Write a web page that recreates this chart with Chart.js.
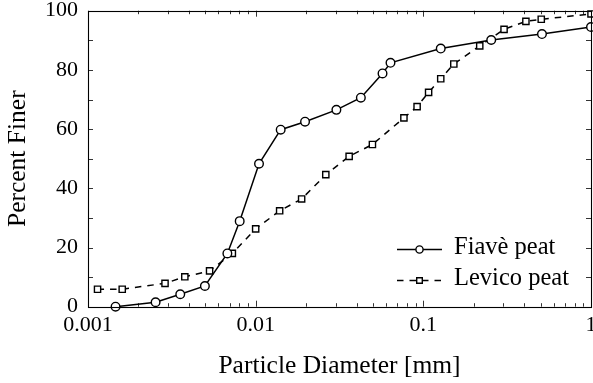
<!DOCTYPE html>
<html>
<head>
<meta charset="utf-8">
<script src="https://cdn.jsdelivr.net/npm/chart.js@4/dist/chart.umd.min.js"></script>
<style>
  html, body { margin: 0; padding: 0; background: #fff; }
  canvas { display: block; }
</style>
</head>
<body>
<canvas id="grain-chart" width="593" height="383"></canvas>
<script>
// grain size distribution data

const fiaveLabel = "Fiavè peat";
const fiaveDiam = [0.00146, 0.00253, 0.00355, 0.00498, 0.00678, 0.00803, 0.01047, 0.0141, 0.0197, 0.0303, 0.0424, 0.0571, 0.0637, 0.127, 0.254, 0.51, 1.0];
const fiavePct = [0, 1.5, 4.2, 7.0, 18.0, 28.9, 48.3, 59.8, 62.5, 66.5, 70.6, 78.8, 82.4, 87.2, 90.1, 92.1, 94.5];

const levicoLabel = "Levico peat";
const levicoDiam = [0.00114, 0.0016, 0.00288, 0.00378, 0.00531, 0.00726, 0.0100, 0.0139, 0.0188, 0.0262, 0.0361, 0.0497, 0.0766, 0.0918, 0.1075, 0.127, 0.152, 0.217, 0.303, 0.409, 0.505, 1.0];
const levicoPct = [5.9, 5.9, 7.9, 10.1, 12.1, 18.0, 26.3, 32.4, 36.4, 44.6, 50.8, 54.8, 63.8, 67.6, 72.4, 77.0, 82.0, 88.1, 93.7, 96.4, 97.1, 98.9];

// axis ticks
const xMajorTicks = [0.001, 0.01, 0.1, 1];
const xMinorSteps = [2, 3, 4, 5, 6, 7, 8, 9];
const yTicks = [0, 10, 20, 30, 40, 50, 60, 70, 80, 90, 100];
const yLabelled = [0, 20, 40, 60, 80, 100];

const xTickValues = [];
xMajorTicks.forEach((d, i) => {
  xTickValues.push(d);
  if (i < xMajorTicks.length - 1) xMinorSteps.forEach(m => xTickValues.push(+(d * m).toPrecision(3)));
});

const toPoints = (xs, ys) => xs.map((x, i) => ({ x: x, y: ys[i] }));

Chart.defaults.font.family = "'Liberation Serif', 'DejaVu Serif', serif";
Chart.defaults.color = '#000';

// ticks drawn inward on all four sides + frame, like pgfplots
const frameTicks = {
  id: 'frameTicks',
  afterDatasetsDraw(chart) {
    const { ctx, chartArea: a, scales } = chart;
    ctx.save();
    ctx.strokeStyle = '#000';
    ctx.lineWidth = 0.8;
    ctx.beginPath();
    scales.x.ticks.forEach(t => {
      const px = Math.round(scales.x.getPixelForValue(t.value)) + 0.5;
      const len = xMajorTicks.includes(t.value) ? 6 : 3.5;
      ctx.moveTo(px, a.bottom); ctx.lineTo(px, a.bottom - len);
      ctx.moveTo(px, a.top); ctx.lineTo(px, a.top + len);
    });
    scales.y.ticks.forEach(t => {
      const py = Math.round(scales.y.getPixelForValue(t.value)) + 0.5;
      const len = 5;
      ctx.moveTo(a.left, py); ctx.lineTo(a.left + len, py);
      ctx.moveTo(a.right, py); ctx.lineTo(a.right - len, py);
    });
    ctx.stroke();
    ctx.lineWidth = 1.1;
    ctx.strokeRect(Math.round(a.left) + 0.5, Math.round(a.top) + 0.5, Math.round(a.right - a.left), Math.round(a.bottom - a.top));
    ctx.restore();
  }
};

// legend inside the plot, lower right, line sample with marker in the middle
const insideLegend = {
  id: 'insideLegend',
  afterDraw(chart) {
    const { ctx } = chart;
    const x0 = 397, x1 = 442, textX = 454;
    const rows = [249, 280];
    ctx.save();
    chart.data.datasets.forEach((ds, i) => {
      const y = rows[i] + 0.5;
      const mid = (x0 + x1) / 2;
      ctx.strokeStyle = '#000';
      ctx.lineWidth = ds.borderWidth;
      ctx.setLineDash(ds.borderDash || []);
      ctx.beginPath();
      ctx.moveTo(x0, y); ctx.lineTo(x1, y);
      ctx.stroke();
      ctx.setLineDash([]);
      ctx.lineWidth = ds.pointBorderWidth;
      ctx.fillStyle = '#fff';
      ctx.beginPath();
      if (ds.pointStyle === 'rect') {
        ctx.rect(mid - 2.8, y - 2.8, 5.6, 5.6);
      } else {
        ctx.arc(mid, y, 3.6, 0, Math.PI * 2);
      }
      ctx.fill();
      ctx.stroke();
      ctx.fillStyle = '#000';
      ctx.font = "24.5px 'Liberation Serif', serif";
      ctx.textBaseline = 'alphabetic';
      ctx.fillText(ds.label, textX, rows[i] + 5);
    });
    ctx.restore();
  }
};

const ctx = document.getElementById('grain-chart');

new Chart(ctx, {
  type: 'scatter',
  data: {
    datasets: [{
      label: fiaveLabel,
      data: toPoints(fiaveDiam, fiavePct),
      showLine: true,
      borderColor: '#000',
      borderWidth: 1.5,
      pointStyle: 'circle',
      pointRadius: 4.3,
      pointBackgroundColor: '#fff',
      pointBorderColor: '#000',
      pointBorderWidth: 1.4,
      clip: false
    }, {
      label: levicoLabel,
      data: toPoints(levicoDiam, levicoPct),
      showLine: true,
      borderColor: '#000',
      borderWidth: 1.5,
      borderDash: [6.5, 6],
      pointStyle: 'rect',
      pointRadius: 4.4,
      pointBackgroundColor: '#fff',
      pointBorderColor: '#000',
      pointBorderWidth: 1.4,
      clip: false
    }]
  },
  options: {
    responsive: false,
    animation: false,
    layout: { autoPadding: false, padding: { top: 10.7, right: 2, left: 0, bottom: 0 } },
    plugins: {
      legend: { display: false },
      tooltip: { enabled: false }
    },
    scales: {
      x: {
        type: 'logarithmic',
        min: 0.001,
        max: 1,
        afterBuildTicks: scale => { scale.ticks = xTickValues.map(v => ({ value: v, major: xMajorTicks.includes(v) })); },
        afterFit: scale => { scale.height = 76.3; scale.paddingLeft = 0; scale.paddingRight = 0; },
        grid: { display: false, drawTicks: false },
        border: { display: false },
        ticks: {
          autoSkip: false,
          maxRotation: 0,
          padding: 5,
          font: { size: 22 },
          callback: v => xMajorTicks.includes(v) ? String(v) : ''
        },
        title: {
          display: true,
          text: 'Particle Diameter [mm]',
          font: { size: 25.5 },
          padding: { top: 0, bottom: 1 }
        }
      },
      y: {
        min: 0,
        max: 100,
        afterBuildTicks: scale => { scale.ticks = yTicks.map(v => ({ value: v })); },
        afterFit: scale => { scale.width = 88; scale.paddingTop = 0; scale.paddingBottom = 0; },
        grid: { display: false, drawTicks: false },
        border: { display: false },
        ticks: {
          autoSkip: false,
          padding: 10,
          font: { size: 22 },
          callback: v => yLabelled.includes(v) ? String(v) : ''
        },
        title: {
          display: true,
          text: 'Percent Finer',
          font: { size: 25.5 },
          padding: { top: 3, bottom: 0 }
        }
      }
    }
  },
  plugins: [frameTicks, insideLegend]
});
</script>
</body>
</html>
